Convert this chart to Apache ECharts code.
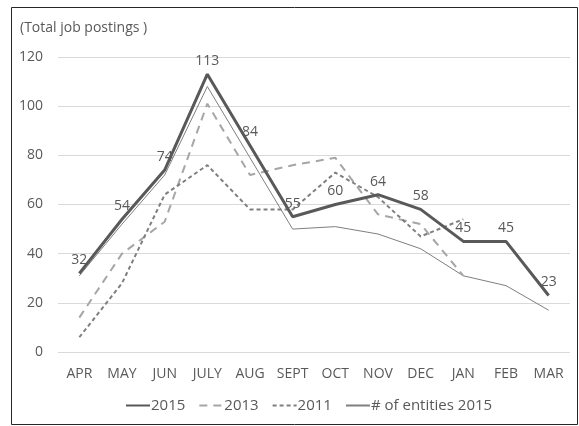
<!DOCTYPE html>
<html>
<head>
<meta charset="utf-8">
<script src="https://cdn.jsdelivr.net/npm/echarts@6/dist/echarts.min.js"></script>
<style>
  html, body { margin: 0; padding: 0; background: #fff; }
  #chart { width: 579px; height: 426px; }
</style>
</head>
<body>
<div id="chart"></div>
<script>
// Monthly job postings, fiscal year April to March
const months = ['APR', 'MAY', 'JUN', 'JULY', 'AUG', 'SEPT', 'OCT', 'NOV', 'DEC', 'JAN', 'FEB', 'MAR'];
const postings2015 = [32, 54, 74, 113, 84, 55, 60, 64, 58, 45, 45, 23];
const postings2013 = [14, 40, 53, 101, 72, 76, 79, 56, 52, 31, null, null];
const postings2011 = [6, 28, 64, 76, 58, 58, 73, 63, 47, 54, null, null];
const entities2015 = [31, 52, 72, 108, 79, 50, 51, 48, 42, 31, 27, 17];
const yTicks = [0, 20, 40, 60, 80, 100, 120];

const textColor = '#595959';
const font = '"Open Sans", "Noto Sans", sans-serif';

const chart = echarts.init(document.getElementById('chart'));
chart.setOption({
  animation: false,
  backgroundColor: '#fff',
  textStyle: { fontFamily: font },
  graphic: [{
    type: 'rect',
    shape: { x: 11.5, y: 7.5, width: 566, height: 417 },
    style: { fill: 'none', stroke: '#262626', lineWidth: 1 },
    silent: true
  }, {
    type: 'text',
    left: 20, top: 21,
    style: { text: '(Total job postings )', fill: textColor, font: '14px ' + font }
  }],
  grid: { left: 58, right: 9, top: 57, bottom: 74, containLabel: false },
  legend: {
    show: true,
    top: 393,
    left: 120,
    itemWidth: 24,
    itemHeight: 14,
    itemGap: 13,
    itemStyle: { opacity: 0 },
    textStyle: { color: textColor, fontSize: 15, fontFamily: font, padding: [0, 0, 0, -4] },
    data: ['2015', '2013', '2011', '# of entities 2015']
  },
  xAxis: {
    type: 'category',
    data: months,
    boundaryGap: true,
    axisLine: { show: false },
    axisTick: { show: false },
    axisLabel: { color: textColor, fontSize: 14, margin: 15, fontFamily: font }
  },
  yAxis: {
    type: 'value',
    min: yTicks[0],
    max: yTicks[yTicks.length - 1],
    interval: yTicks[1] - yTicks[0],
    axisLine: { show: false },
    axisTick: { show: false },
    axisLabel: { color: textColor, fontSize: 14, margin: 15, fontFamily: font },
    splitLine: { lineStyle: { color: '#d9d9d9', width: 1 } }
  },
  series: [{
    name: '2015',
    type: 'line',
    data: postings2015,
    symbol: 'circle',
    symbolSize: 0,
    showSymbol: true,
    z: 4,
    lineStyle: { color: '#595959', width: 3 },
    itemStyle: { color: '#595959' },
    label: {
      show: true,
      position: 'top',
      distance: 6,
      color: textColor,
      fontSize: 14,
      fontFamily: font
    }
  }, {
    name: '2013',
    type: 'line',
    data: postings2013,
    symbol: 'none',
    z: 3,
    lineStyle: { color: '#a6a6a6', width: 2, type: [8, 6] },
    itemStyle: { color: '#a6a6a6' }
  }, {
    name: '2011',
    type: 'line',
    data: postings2011,
    symbol: 'none',
    z: 3,
    lineStyle: { color: '#7f7f7f', width: 2, type: [4, 3] },
    itemStyle: { color: '#7f7f7f' }
  }, {
    name: '# of entities 2015',
    type: 'line',
    data: entities2015,
    symbol: 'none',
    z: 2,
    lineStyle: { color: '#7f7f7f', width: 1, type: 'solid' },
    itemStyle: { color: '#7f7f7f' }
  }]
});
</script>
</body>
</html>
